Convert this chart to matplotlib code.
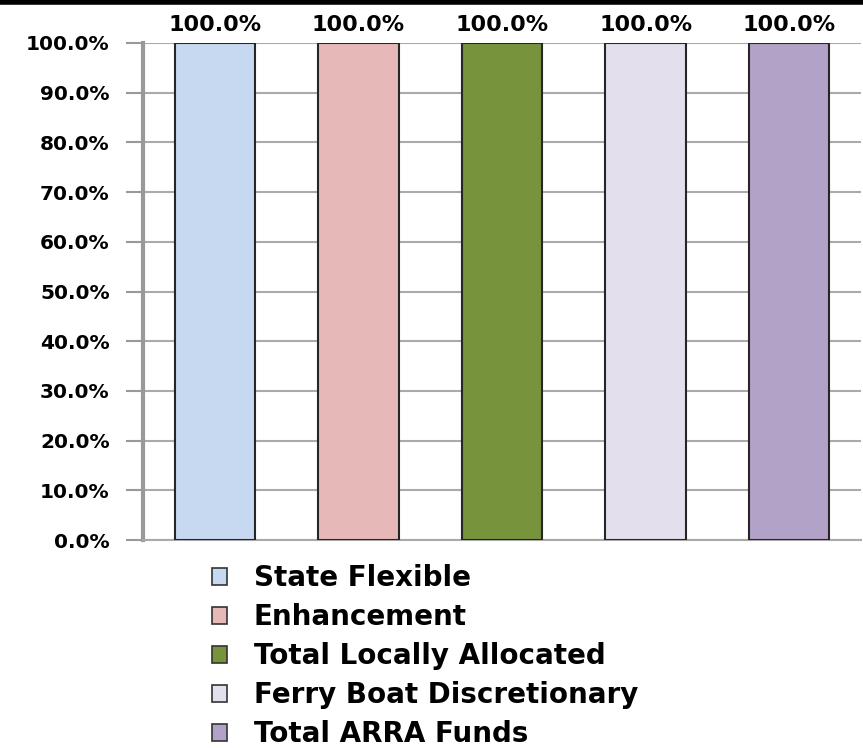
import matplotlib
matplotlib.use("Agg")
import matplotlib.pyplot as plt
from matplotlib.patches import Patch
from matplotlib.lines import Line2D
from matplotlib.ticker import FuncFormatter

# data
categories = ['State Flexible', 'Enhancement', 'Total Locally Allocated',
              'Ferry Boat Discretionary', 'Total ARRA Funds']
values = [100.0, 100.0, 100.0, 100.0, 100.0]
colors = ['#c6d9f1', '#e6b9b8', '#77933c', '#e4dfec', '#b3a2c7']

plt.rcParams['font.family'] = ['DejaVu Sans']
plt.rcParams['font.weight'] = 'bold'

fig = plt.figure(figsize=(8.63, 7.48), dpi=100)
ax = fig.add_axes([143/863, 1-540/748, 718/863, 497/748])

x = range(len(categories))
bars = ax.bar(x, values, width=0.56, color=colors, edgecolor='#262626', linewidth=1.5, zorder=3)

for i, v in zip(x, values):
    ax.text(i, v + 1.6, '{:.1f}%'.format(v), ha='center', va='bottom',
            fontsize=16, fontweight='bold', clip_on=False)

ax.set_xlim(-0.5, len(categories) - 0.5)
ax.set_ylim(0, 100)
ax.set_yticks(range(0, 101, 10))
ax.yaxis.set_major_formatter(FuncFormatter(lambda v, p: '{:.1f}%'.format(v)))
ax.set_xticks([])
ax.tick_params(axis='y', length=12, width=1.5, color='#999999', labelsize=14.5, pad=12)
for lab in ax.get_yticklabels():
    lab.set_fontweight('bold')

ax.grid(axis='y', color='#aaaaaa', linewidth=1.5, zorder=0)
ax.spines['top'].set_visible(False)
ax.spines['right'].set_visible(False)
ax.spines['left'].set_color('#999999')
ax.spines['left'].set_linewidth(3)
ax.spines['bottom'].set_color('#aaaaaa')
ax.spines['bottom'].set_linewidth(1.5)

handles = [Patch(facecolor=c, edgecolor='#333333', linewidth=1.2) for c in colors]
fig.legend(handles, categories, loc='upper left', bbox_to_anchor=(212/863, 1-564/748),
           frameon=False, prop={'weight': 'bold', 'size': 20},
           handlelength=0.55, handleheight=0.55, handletextpad=0.95, labelspacing=0.4,
           borderaxespad=0, borderpad=0)

# top border line
fig.add_artist(Line2D([0, 1], [0.997, 0.997], color='black', linewidth=4, transform=fig.transFigure))

plt.savefig('out.png', dpi=100)
